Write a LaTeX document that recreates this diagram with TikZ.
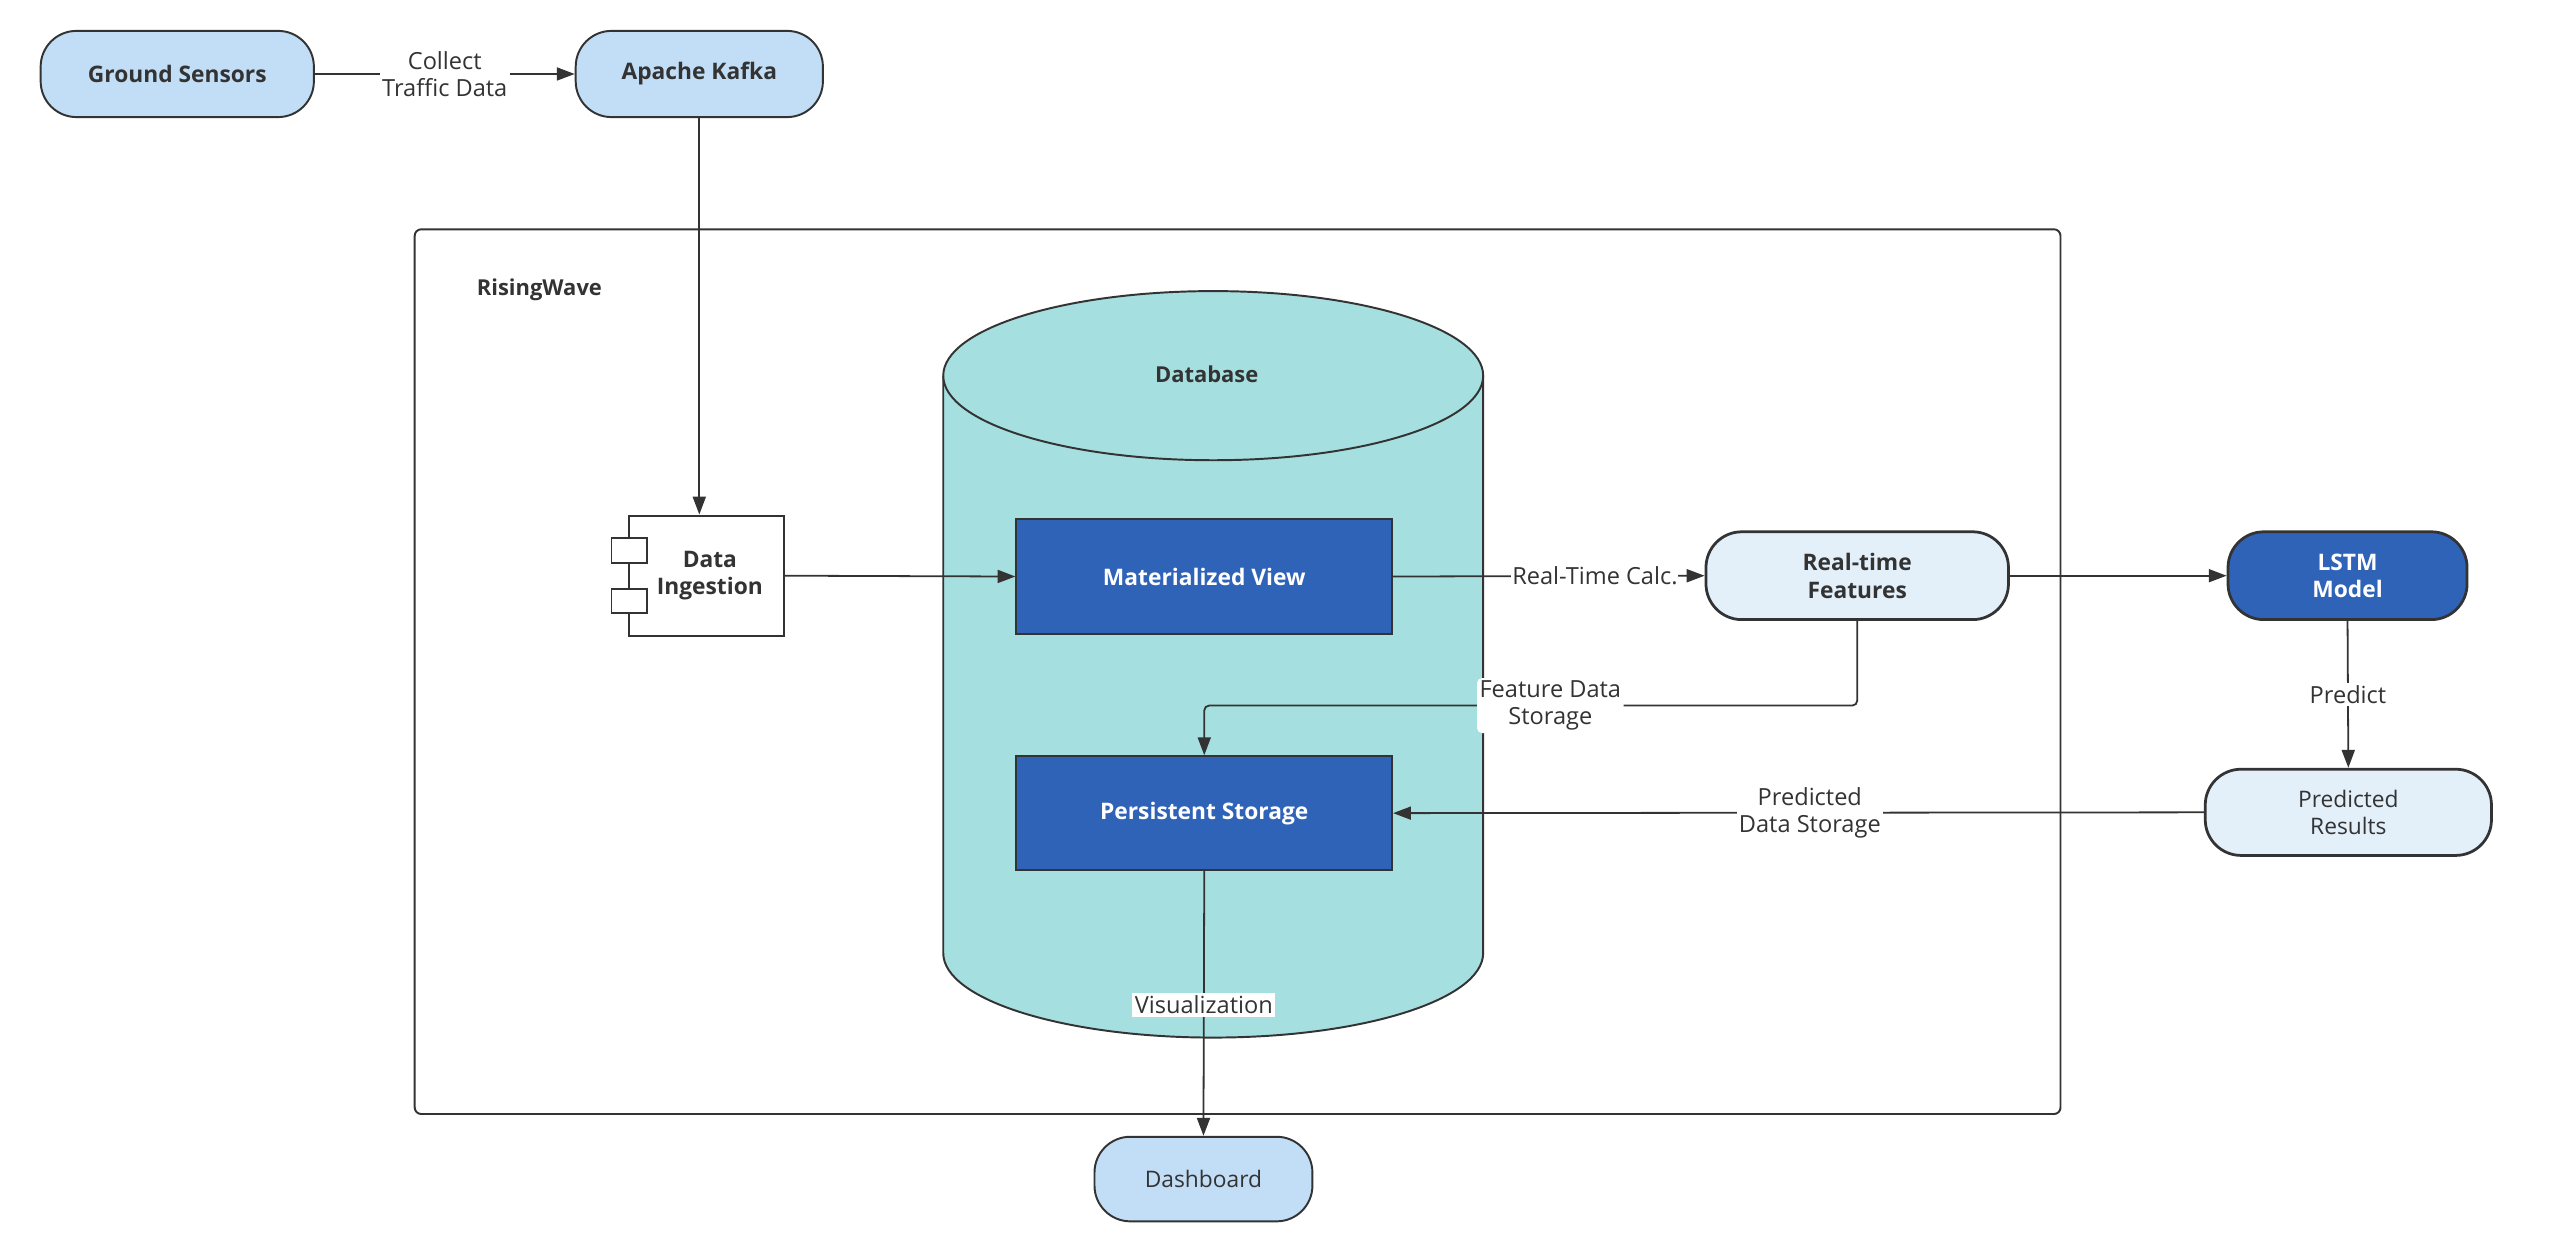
\documentclass[tikz,border=0pt]{standalone}
\usepackage{fontspec}
\setmainfont{Open Sans}
\usetikzlibrary{arrows.meta,calc}
\definecolor{lineC}{HTML}{333333}
\definecolor{paleblue}{HTML}{C2DEF7}
\definecolor{darkblue}{HTML}{2F63B8}
\definecolor{lightblue}{HTML}{E3F0FA}
\definecolor{tealC}{HTML}{A6DFE0}
\begin{document}
\begin{tikzpicture}[x=1pt,y=-1pt,
  every node/.style={font=\fontsize{14}{17}\selectfont, text=lineC, inner sep=0pt},
  stadium/.style={draw=lineC, line width=1.2pt, rounded corners=22pt, align=center},
  pale/.style={stadium, fill=paleblue, font=\fontsize{14}{17}\selectfont\bfseries},
  dark/.style={draw=lineC, line width=1.2pt, fill=darkblue, text=white, align=center, font=\fontsize{14}{17}\selectfont\bfseries},
  light/.style={stadium, fill=lightblue, line width=1.7pt},
  conn/.style={draw=lineC, line width=1.1pt, -{Triangle[length=11pt,width=8pt]}},
  lbl/.style={fill=white, align=center, inner sep=1.5pt, font=\fontsize{14.5}{17}\selectfont}
]
\useasboundingbox (0,0) rectangle (1568,767);

% RisingWave container
\draw[lineC, line width=1.2pt, rounded corners=4pt] (255,141) rectangle (1267,685);
\node[anchor=west, font=\fontsize{13.5}{16}\selectfont\bfseries] (rw) at (293,178) {RisingWave};

% Database cylinder
\fill[tealC] (580,231) -- (580,586) arc[start angle=180, end angle=0, x radius=166, y radius=52] -- (912,231) -- cycle;
\draw[lineC, line width=1.2pt] (580,231) -- (580,586) arc[start angle=180, end angle=0, x radius=166, y radius=52] -- (912,231);
\draw[lineC, line width=1.2pt, fill=tealC] (746,231) ellipse[x radius=166, y radius=52];
\node[font=\fontsize{13.5}{16}\selectfont\bfseries] (db) at (742,230) {Database};

% Nodes
\node[pale, minimum width=168pt, minimum height=53pt] (gs) at (109,45.5) {Ground Sensors};
\node[pale, minimum width=152pt, minimum height=53pt] (kafka) at (430,45.5) {Apache Kafka};

\node[draw=lineC, line width=1.2pt, fill=white, minimum width=95pt, minimum height=74pt, align=center, font=\fontsize{14}{17}\selectfont\bfseries] (di) at (434.5,354) {\hspace*{4pt}Data\\\hspace*{4pt}Ingestion};
\draw[lineC, line width=1.2pt, fill=white] (376,331) rectangle (398,346);
\draw[lineC, line width=1.2pt, fill=white] (376,362) rectangle (398,377);

\node[dark, minimum width=231pt, minimum height=71pt] (mv) at (740.5,354.5) {Materialized View};
\node[dark, minimum width=231pt, minimum height=70pt] (ps) at (740.5,500) {Persistent Storage};

\node[light, minimum width=186pt, minimum height=54pt, font=\fontsize{14}{17}\selectfont\bfseries] (rtf) at (1142,354) {Real-time\\Features};
\node[stadium, dark, rounded corners=22pt, line width=1.7pt, minimum width=147pt, minimum height=54pt] (lstm) at (1443.5,354) {LSTM\\Model};
\node[light, minimum width=176pt, minimum height=53pt] (pr) at (1444,499.5) {Predicted\\Results};
\node[stadium, fill=paleblue, minimum width=134pt, minimum height=52pt] (dash) at (740,725) {Dashboard};

% Connectors
\draw[conn] (gs.east) -- (kafka.west) node[lbl, midway] {Collect\\Traffic Data};
\draw[conn] (kafka.south) -- (kafka.south |- di.north);
\draw[conn] (di.east) -- (mv.west);
\draw[conn] (mv.east) -- (rtf.west) node[lbl, pos=0.648, inner sep=0.5pt] {Real-Time Calc.};
\draw[conn] (rtf.east) -- (lstm.west);
\draw[conn, rounded corners=3pt] (rtf.south) -- ++(0,52) -| (ps.north) node[lbl, pos=0.235] {Feature Data\\Storage};
\draw[conn] (lstm.south) -- (pr.north) node[lbl, midway] {Predict};
\draw[conn] (pr.west) -- (ps.east) node[lbl, pos=0.486] {Predicted\\Data Storage};
\draw[conn] (ps.south) -- (dash.north) node[lbl, pos=0.506] {Visualization};
\end{tikzpicture}
\end{document}
